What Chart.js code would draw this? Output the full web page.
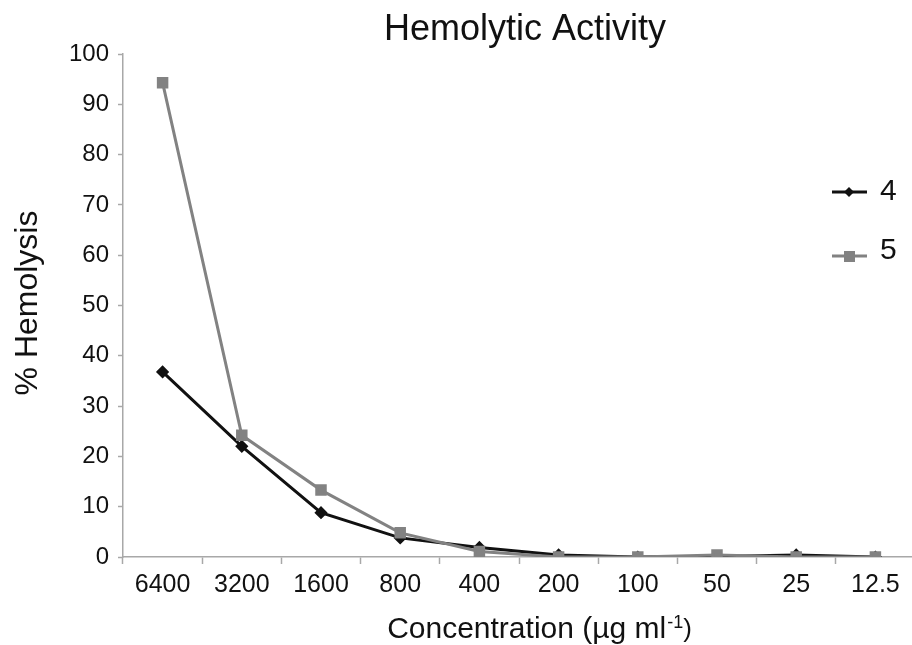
<!DOCTYPE html>
<html>
<head>
<meta charset="utf-8">
<script src="https://cdn.jsdelivr.net/npm/chart.js@4/dist/chart.umd.min.js"></script>
<style>
  html, body { margin: 0; padding: 0; background: #fff; overflow: hidden; }
  #wrap { width: 912px; height: 645px; overflow: hidden; }
</style>
</head>
<body>
<div id="wrap"><canvas id="chart" width="915" height="645"></canvas></div>
<script>
const concentrations = ['6400', '3200', '1600', '800', '400', '200', '100', '50', '25', '12.5'];
const compound4 = [36.8, 22.0, 8.8, 3.8, 1.9, 0.4, 0.0, 0.1, 0.4, 0.0];
const compound5 = [94.3, 24.2, 13.3, 4.8, 1.1, 0.0, 0.0, 0.4, 0.0, 0.0];
const yTicks = [0, 10, 20, 30, 40, 50, 60, 70, 80, 90, 100];

const FONT = "'Liberation Sans', Arial, sans-serif";
const BLACK = '#111111';
const GRAY = '#828282';
const AXIS = '#a8a8a8';

// title, axis titles and the legend sitting inside the plot on the right
// (canvas is 3px wider than the window so the x axis runs off the edge like the original)
const decorations = {
  id: 'decorations',
  afterDraw(chart) {
    const ctx = chart.ctx;
    ctx.save();
    ctx.fillStyle = '#111';
    ctx.textBaseline = 'middle';

    ctx.font = '36px ' + FONT;
    ctx.textAlign = 'center';
    ctx.fillText('Hemolytic Activity', 525, 30);

    // x title with small superscript
    const main = 'Concentration (\u00b5g ml';
    const sup = '-1';
    const close = ')';
    ctx.font = '30px ' + FONT;
    const wMain = ctx.measureText(main).width;
    ctx.font = '18px ' + FONT;
    const wSup = ctx.measureText(sup).width;
    ctx.font = '26px ' + FONT;
    const wClose = ctx.measureText(close).width;
    let x = 539 - (wMain + wSup + wClose) / 2;
    ctx.textAlign = 'left';
    ctx.textBaseline = 'alphabetic';
    ctx.font = '30px ' + FONT;
    ctx.fillText(main, x, 638);
    x += wMain + 1;
    ctx.font = '18px ' + FONT;
    ctx.fillText(sup, x, 628);
    x += wSup;
    ctx.font = '26px ' + FONT;
    ctx.fillText(close, x, 637);

    ctx.textBaseline = 'middle';
    ctx.textAlign = 'center';
    ctx.save();
    ctx.translate(28, 303);
    ctx.rotate(-Math.PI / 2);
    ctx.font = '32px ' + FONT;
    ctx.fillText('% Hemolysis', 0, 0);
    ctx.restore();

    // legend
    const items = [
      { label: '4', color: BLACK, y: 192, ty: 191, shape: 'diamond' },
      { label: '5', color: GRAY, y: 256, ty: 250, shape: 'square' }
    ];
    items.forEach(it => {
      ctx.strokeStyle = it.color;
      ctx.fillStyle = it.color;
      ctx.lineWidth = 3;
      ctx.beginPath();
      ctx.moveTo(832, it.y);
      ctx.lineTo(867, it.y);
      ctx.stroke();
      ctx.beginPath();
      if (it.shape === 'diamond') {
        ctx.moveTo(849, it.y - 5);
        ctx.lineTo(854, it.y);
        ctx.lineTo(849, it.y + 5);
        ctx.lineTo(844, it.y);
      } else {
        ctx.rect(844, it.y - 5, 11, 11);
      }
      ctx.closePath();
      ctx.fill();
      ctx.fillStyle = '#111';
      ctx.font = '30px ' + FONT;
      ctx.textAlign = 'left';
      ctx.fillText(it.label, 880, it.ty + 1);
    });
    ctx.restore();
  }
};

new Chart(document.getElementById('chart'), {
  type: 'line',
  data: {
    labels: concentrations,
    datasets: [
      {
        label: '5',
        data: compound5,
        borderColor: GRAY,
        backgroundColor: GRAY,
        borderWidth: 3,
        pointStyle: 'rect',
        pointRadius: 6,
        pointHoverRadius: 6,
        tension: 0
      },
      {
        label: '4',
        data: compound4,
        borderColor: BLACK,
        backgroundColor: BLACK,
        borderWidth: 3,
        pointStyle: 'rectRot',
        pointRadius: 4.5,
        pointHoverRadius: 4.5,
        tension: 0
      }
    ]
  },
  options: {
    responsive: false,
    animation: false,
    devicePixelRatio: 1,
    layout: { autoPadding: false, padding: { top: 54, right: 0, left: 0, bottom: 0 } },
    plugins: {
      legend: { display: false },
      title: { display: false },
      tooltip: { enabled: false }
    },
    scales: {
      x: {
        type: 'category',
        offset: true,
        grid: {
          offset: true,
          drawOnChartArea: false,
          color: AXIS,
          tickLength: 7,
          tickWidth: 1.5
        },
        border: { color: AXIS, width: 1.5 },
        ticks: {
          color: '#111',
          font: { family: FONT, size: 25 },
          padding: 6,
          maxRotation: 0,
          autoSkip: false
        },
        afterFit(scale) { scale.height = 88; }
      },
      y: {
        min: 0,
        max: 100,
        afterBuildTicks(scale) { scale.ticks = yTicks.map(v => ({ value: v })); },
        grid: {
          drawOnChartArea: false,
          color: AXIS,
          tickLength: 5,
          tickWidth: 1.5
        },
        border: { color: AXIS, width: 1.5 },
        ticks: {
          color: '#111',
          font: { family: FONT, size: 24 },
          padding: 9
        },
        afterFit(scale) { scale.width = 123; }
      }
    }
  },
  plugins: [decorations]
});
</script>
</body>
</html>
